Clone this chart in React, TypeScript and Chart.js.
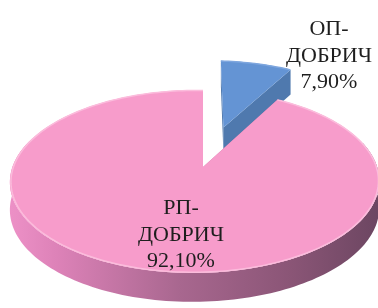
import { useEffect, useRef } from 'react';
import { Chart, registerables } from 'chart.js';

Chart.register(...registerables);

// ---- data ----
const categories = ['ОП-ДОБРИЧ', 'РП-ДОБРИЧ'];
const shares = [7.9, 92.1];

// ---- styles ----
const topColors = ['#6494d4', '#f79ccb'];
const cutColors = ['#4f79ae', '#c97aa6'];
const rimColors = ['#7ea6de', '#fbbcdc'];
const explodeFrac = [0.495, 0]; // radial explode, as a fraction of radius
const labelAnchors = [
  [329, 35],
  [181, 214],
];
const LINE_H = 26.5;
const FONT = '22px "Liberation Serif", "Times New Roman", serif';

// projection of the pie disk (perspective-like)
const CX = 203;
const CY = 167;
const A = 182;
const B = 89;
const P = 0.1585;
const Q = 0.045;
const D1 = 27;

function project(a: number, rf: number, du: number, dv: number) {
  const u = rf * Math.cos(a) + du;
  const v = rf * Math.sin(a) + dv;
  const w = 1 - P * v + Q * u;
  return { x: CX + (A * u) / w, y: CY + (B * v) / w, d: D1 / Math.pow(w, 0.4) };
}

function fmt(v: number) {
  return v.toFixed(2).replace('.', ',') + '%';
}

const pie3d = {
  id: 'pie3d',
  beforeDatasetsDraw(chart: any) {
    const ctx: CanvasRenderingContext2D = chart.ctx;
    const meta = chart.getDatasetMeta(0);
    const els = meta.data as any[];
    const order = els
      .map((_: any, i: number) => i)
      .sort((i: number, j: number) => {
        const mi = (els[i].startAngle + els[i].endAngle) / 2;
        const mj = (els[j].startAngle + els[j].endAngle) / 2;
        return Math.sin(mi) - Math.sin(mj);
      });

    ctx.save();
    for (const i of order) {
      const el = els[i];
      const s = el.startAngle;
      const e = el.endAngle;
      const mid = (s + e) / 2;
      const du = explodeFrac[i] * Math.cos(mid);
      const dv = explodeFrac[i] * Math.sin(mid);
      const N = Math.max(8, Math.ceil(((e - s) / (Math.PI * 2)) * 240));

      // outer wall (front part only)
      const ws = Math.max(s, -0.3);
      const we = Math.min(e, Math.PI + 0.3);
      if (we > ws) {
        const grad = ctx.createLinearGradient(CX - A * 1.05, 0, CX + A, 0);
        grad.addColorStop(0, '#ec90c6');
        grad.addColorStop(0.12, '#dd82b8');
        grad.addColorStop(0.45, '#a8678f');
        grad.addColorStop(0.75, '#8a5576');
        grad.addColorStop(1, '#6a4560');
        const M = Math.ceil(((we - ws) / (Math.PI * 2)) * 240);
        ctx.beginPath();
        for (let k = 0; k <= M; k++) {
          const a = ws + ((we - ws) * k) / M;
          const p = project(a, 1, du, dv);
          if (k === 0) ctx.moveTo(p.x, p.y);
          else ctx.lineTo(p.x, p.y);
        }
        for (let k = M; k >= 0; k--) {
          const a = ws + ((we - ws) * k) / M;
          const p = project(a, 1, du, dv);
          ctx.lineTo(p.x, p.y + p.d);
        }
        ctx.closePath();
        ctx.fillStyle = grad;
        ctx.fill();
      }

      // cut faces
      for (const t of [s, e]) {
        const o = project(t, 1, du, dv);
        const c = project(t, 0, du, dv);
        ctx.beginPath();
        ctx.moveTo(c.x, c.y);
        ctx.lineTo(o.x, o.y);
        ctx.lineTo(o.x, o.y + o.d);
        ctx.lineTo(c.x, c.y + c.d);
        ctx.closePath();
        ctx.fillStyle = cutColors[i];
        ctx.fill();
      }

      // top face
      const c0 = project(0, 0, du, dv);
      ctx.beginPath();
      ctx.moveTo(c0.x, c0.y);
      for (let k = 0; k <= N; k++) {
        const a = s + ((e - s) * k) / N;
        const p = project(a, 1, du, dv);
        ctx.lineTo(p.x, p.y);
      }
      ctx.closePath();
      ctx.fillStyle = topColors[i];
      ctx.fill();

      // rim highlight
      ctx.beginPath();
      for (let k = 0; k <= N; k++) {
        const a = s + ((e - s) * k) / N;
        const p = project(a, 0.995, du, dv);
        if (k === 0) ctx.moveTo(p.x, p.y);
        else ctx.lineTo(p.x, p.y);
      }
      ctx.strokeStyle = rimColors[i];
      ctx.lineWidth = 1.5;
      ctx.stroke();
    }
    ctx.restore();
    return false;
  },
  afterDraw(chart: any) {
    const ctx: CanvasRenderingContext2D = chart.ctx;
    const labels = chart.data.labels as string[];
    const values = chart.data.datasets[0].data as number[];
    ctx.save();
    ctx.font = FONT;
    ctx.fillStyle = '#1e1e1e';
    ctx.textAlign = 'center';
    ctx.textBaseline = 'alphabetic';
    labels.forEach((lab, i) => {
      const idx = lab.indexOf('-');
      const lines = [lab.slice(0, idx + 1), lab.slice(idx + 1), fmt(values[i])];
      const [x, y] = labelAnchors[i];
      lines.forEach((ln, k) => ctx.fillText(ln, x, y + k * LINE_H));
    });
    ctx.restore();
  },
};

export default function App() {
  const ref = useRef<HTMLCanvasElement>(null);
  useEffect(() => {
    const chart = new Chart(ref.current as HTMLCanvasElement, {
      type: 'pie',
      data: {
        labels: categories,
        datasets: [{ data: shares, backgroundColor: topColors, borderWidth: 0 }],
      },
      options: {
        animation: false,
        responsive: true,
        maintainAspectRatio: false,
        rotation: 0,
        plugins: { legend: { display: false }, tooltip: { enabled: false } },
      },
      plugins: [pie3d as any],
    });
    return () => chart.destroy();
  }, []);
  return (
    <div style={{ position: 'fixed', left: 0, top: 0, width: 378, height: 308, background: '#fff' }}>
      <canvas ref={ref} />
    </div>
  );
}
